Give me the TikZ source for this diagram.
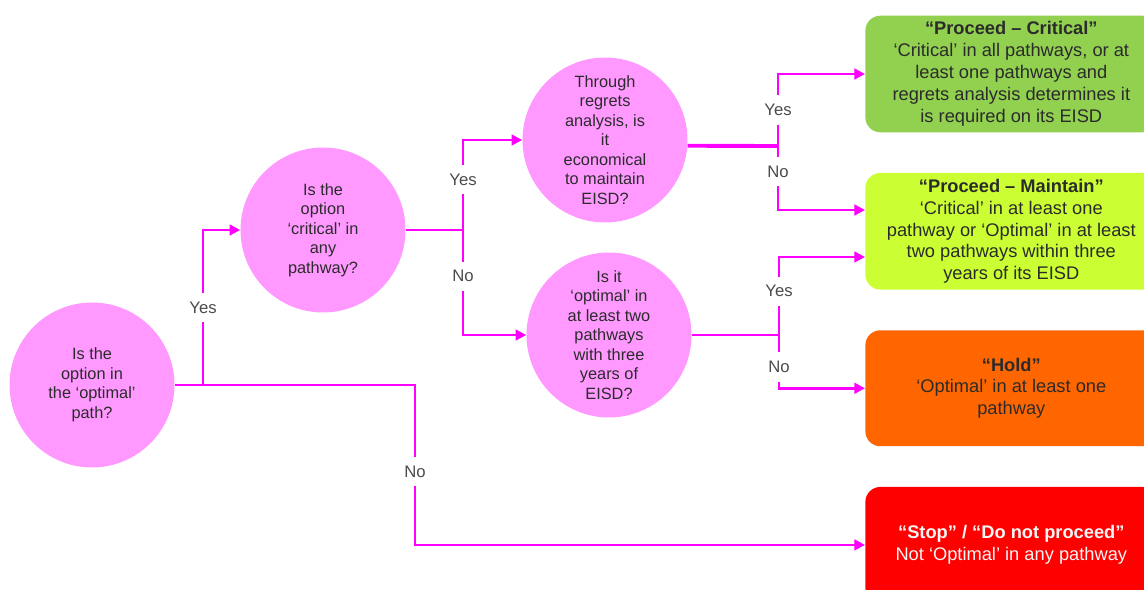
\documentclass[tikz,border=0pt]{standalone}
\usepackage{fontspec}
\setmainfont{Liberation Sans}
\usepackage{tikz}
\usetikzlibrary{positioning, arrows.meta}
\definecolor{flow}{HTML}{FF00FF}
\definecolor{bubble}{HTML}{FF99FF}
\definecolor{critical}{HTML}{92D050}
\definecolor{maintain}{HTML}{CCFF33}
\definecolor{hold}{HTML}{FF6600}
\definecolor{stop}{HTML}{FF0000}
\definecolor{ink}{HTML}{2B2B2B}

\begin{document}
\begin{tikzpicture}[x=0.02cm, y=-0.02cm,
    question/.style={circle, fill=bubble, minimum size=3.3cm, inner sep=0pt, align=center, text=ink, font=\fontsize{9.3}{11.1}\selectfont},
    outcome/.style={rectangle, rounded corners=0.3cm, minimum width=5.84cm, minimum height=2.32cm, align=center, text=ink, font=\fontsize{10.4}{12.5}\selectfont},
    link/.style={flow, line width=1.6pt},
    linkarrow/.style={link, -{Triangle[length=6pt, width=6pt]}},
    answer/.style={fill=white, text=ink!85, inner xsep=1pt, inner ysep=5pt, font=\fontsize{9.5}{11}\selectfont}
  ]
    \useasboundingbox (0,0) rectangle (1144,590);

    % questions
    \node[question] (optimal) at (92,385) {Is the\\option in\\the ‘optimal’\\path?};
    \node[question] (critical) at (323,230) {Is the\\option\\‘critical’ in\\any\\pathway?};
    \node[question] (regrets) at (605,140) {Through\\regrets\\analysis, is\\it\\economical\\to maintain\\EISD?};
    \node[question] (twopaths) at (609,335) {Is it\\‘optimal’ in\\at least two\\pathways\\with three\\years of\\EISD?};

    % outcomes
    \node[outcome, fill=critical, anchor=west] (proceedC) at (865,74) {\textbf{“Proceed – Critical”}\\‘Critical’ in all pathways, or at\\least one pathways and\\regrets analysis determines it\\is required on its EISD};
    \node[outcome, fill=maintain, below=0.8cm of proceedC] (proceedM) {\textbf{“Proceed – Maintain”}\\‘Critical’ in at least one\\pathway or ‘Optimal’ in at least\\two pathways within three\\years of its EISD};
    \node[outcome, fill=hold, below=0.8cm of proceedM] (hold) {\textbf{“Hold”}\\‘Optimal’ in at least one\\pathway};
    \node[outcome, fill=stop, text=white!92!gray, below=0.8cm of hold] (stop) {\textbf{“Stop” / “Do not proceed”}\\Not ‘Optimal’ in any pathway};

    % split points
    \coordinate (split1) at (203,385);
    \coordinate (down1) at (415,385);
    \coordinate (split2) at (463,230);
    \coordinate (split3) at (778,146);
    \coordinate (split4) at (779,335);
    \coordinate (inM1) at (865,210);
    \coordinate (inM2) at (865,257);

    \draw[linkarrow] (optimal.east) -- (down1) |- (stop.west) node[answer, pos=0.27] {No};
    \draw[linkarrow] (split1) |- (critical.west) node[answer, pos=0.25] {Yes};

    \draw[link] (critical.east) -- (split2);
    \draw[linkarrow] (split2) |- (regrets.west) node[answer, pos=0.28] {Yes};
    \draw[linkarrow] (split2) |- (twopaths.west) node[answer, pos=0.22] {No};

    \draw[link, line width=2.2pt] (regrets.-4) -- (split3);
    \draw[linkarrow] (split3) |- (proceedC.west) node[answer, pos=0.25] {Yes};
    \draw[linkarrow] (split3) |- (inM1) node[answer, pos=0.2] {No};

    \draw[link] (twopaths.east) -- (split4);
    \draw[linkarrow] (split4) |- (inM2) node[answer, pos=0.28] {Yes};
    \draw[linkarrow] (split4) |- (hold.west) node[answer, pos=0.3] {No};

  \end{tikzpicture}
\end{document}
